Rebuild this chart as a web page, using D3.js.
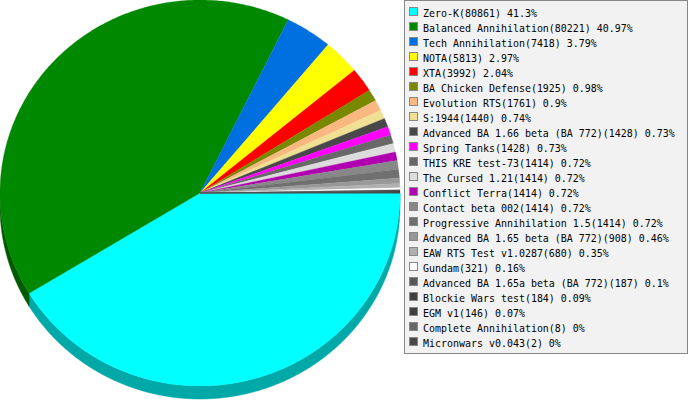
<!DOCTYPE html>
<html><head><meta charset="utf-8">
<script src="https://cdn.jsdelivr.net/npm/d3@7/dist/d3.min.js"></script>
<style>body{margin:0;background:#fff}svg{display:block}</style>
</head><body>
<svg id="c" width="689" height="400"></svg>
<script>
const categories = ["Zero-K","Balanced Annihilation","Tech Annihilation","NOTA","XTA","BA Chicken Defense","Evolution RTS","S:1944","Advanced BA 1.66 beta (BA 772)","Spring Tanks","THIS KRE test-73","The Cursed 1.21","Conflict Terra","Contact beta 002","Progressive Annihilation 1.5","Advanced BA 1.65 beta (BA 772)","EAW RTS Test v1.0287","Gundam","Advanced BA 1.65a beta (BA 772)","Blockie Wars test","EGM v1","Complete Annihilation","Micronwars v0.043"];
const values = [80861,80221,7418,5813,3992,1925,1761,1440,1428,1428,1414,1414,1414,1414,1414,908,680,321,187,184,146,8,2];
const colors = ["#00ffff","#008800","#0070e0","#ffff00","#ff0000","#788800","#f8b880","#f0e094","#484848","#ff00ff","#686868","#dcdcdc","#b000b0","#888888","#707070","#989898","#b0b0b0","#ffffff","#585858","#404040","#404040","#686868","#484848"];

const svg = d3.select("#c");
const cx = 200, cy = 193, rx = 200, ry = 193, depth = 13;
const total = d3.sum(values);
const pie = d3.pie().sort(null).startAngle(Math.PI/2).endAngle(Math.PI/2 + 2*Math.PI);
const arcs = pie(values);
const px = a => cx + rx*Math.sin(a);
const py = a => cy - ry*Math.cos(a);
const line = d3.line();
function arcPts(a0, a1, dy){
  const n = Math.max(2, Math.ceil((a1-a0)/0.01));
  const pts = [];
  for(let i=0;i<=n;i++){const a=a0+(a1-a0)*i/n; pts.push([px(a), py(a)+dy]);}
  return pts;
}
const gSide = svg.append("g");
arcs.forEach((d,i)=>{
  const a0 = Math.max(d.startAngle, Math.PI/2), a1 = Math.min(d.endAngle, 3*Math.PI/2);
  if(a1 <= a0) return;
  const top = arcPts(a0,a1,0), bot = arcPts(a0,a1,depth).reverse();
  const c = d3.color(colors[i]);
  const dark = d3.rgb(c.r*0.66, c.g*0.66, c.b*0.66);
  gSide.append("path").attr("d", line(top.concat(bot))+"Z").attr("fill", dark).attr("stroke", dark).attr("stroke-width",0.5);
});
const gTop = svg.append("g");
arcs.forEach((d,i)=>{
  const pts = [[cx,cy]].concat(arcPts(d.startAngle, d.endAngle, 0));
  gTop.append("path").attr("d", line(pts)+"Z").attr("fill", colors[i]).attr("stroke", colors[i]).attr("stroke-width",0.3);
});
const rowY = d3.scaleLinear().domain([0,1]).range([12,27]);
const lg = svg.append("g");
lg.append("rect").attr("x",404.5).attr("y",0.5).attr("width",283).attr("height",353).attr("fill","#f2f2f2").attr("stroke","#888");
categories.forEach((c,i)=>{
  const y = rowY(i);
  lg.append("rect").attr("x",409.5).attr("y",y-4.5).attr("width",8).attr("height",8).attr("fill",colors[i]).attr("stroke","#888");
  const pct = Math.round(values[i]/total*10000)/100;
  lg.append("text").attr("transform",`translate(423,${y+4.5}) scale(0.906,1)`).attr("font-family","DejaVu Sans Mono").attr("font-size","11px").attr("fill","#000")
    .text(`${c}(${values[i]}) ${pct}%`);
});
</script>
</body></html>
